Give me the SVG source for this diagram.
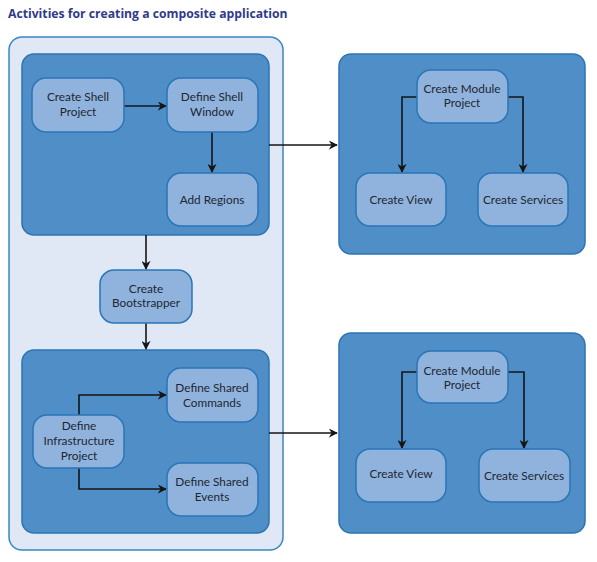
<svg xmlns="http://www.w3.org/2000/svg" width="597" height="562" viewBox="0 0 597 562">
<defs>
<marker id="ah" viewBox="0 0 10 10" refX="9" refY="5" markerWidth="9" markerHeight="9" markerUnits="userSpaceOnUse" orient="auto">
<path d="M0,0 L10,5 L0,10 L3,5 z" fill="#151515"/>
</marker>
<style>
.title{font-family:"Open Sans","Liberation Sans",sans-serif;font-weight:bold;font-size:12.2px;fill:#2f3a8a}
.outer{fill:#dfe8f4;stroke:#3a86c2;stroke-width:1.5}
.group{fill:#4f8ec6;stroke:#2b74b3;stroke-width:1.5}
.node{fill:#8fb3dc;stroke:#2a76b8;stroke-width:1.5}
.lbl{font-family:Lato,"Open Sans",sans-serif;font-size:11.8px;fill:#1e2633;text-anchor:middle}
.c{fill:none;stroke:#151515;stroke-width:1.6;marker-end:url(#ah)}
</style>
</defs>
<text class="title" x="8" y="18">Activities for creating a composite application</text>

<g id="outer-shell"><rect class="outer" x="9" y="37" width="274" height="513" rx="13"/></g>
<g id="shell-group"><rect class="group" x="22" y="54" width="247" height="181" rx="12"/></g>
<g id="infra-group"><rect class="group" x="22" y="350" width="247" height="183" rx="12"/></g>
<g id="module-group-1"><rect class="group" x="339" y="54" width="246" height="200" rx="12"/></g>
<g id="module-group-2"><rect class="group" x="339" y="333" width="246" height="200" rx="12"/></g>

<g id="connectors">
<path class="c" d="M124,106 H166"/>
<path class="c" d="M212,132 V172"/>
<path class="c" d="M269,145 H337"/>
<path class="c" d="M146,235 V269"/>
<path class="c" d="M146,323 V349"/>
<path class="c" d="M79,415 V395 H166"/>
<path class="c" d="M79,468 V489 H166"/>
<path class="c" d="M269,433 H337"/>
<path class="c" d="M417,97 H402 V172"/>
<path class="c" d="M508,97 H523 V172"/>
<path class="c" d="M417,372 H402 V448"/>
<path class="c" d="M508,372 H524 V448"/>
</g>

<g id="create-shell-project"><rect class="node" x="32" y="78" width="92" height="54" rx="14"/><text class="lbl" x="78" y="101">Create Shell</text><text class="lbl" x="78" y="116">Project</text></g>
<g id="define-shell-window"><rect class="node" x="167" y="78" width="91" height="54" rx="14"/><text class="lbl" x="212" y="101">Define Shell</text><text class="lbl" x="212" y="116">Window</text></g>
<g id="add-regions"><rect class="node" x="167" y="173" width="91" height="53" rx="14"/><text class="lbl" x="212" y="204">Add Regions</text></g>
<g id="create-bootstrapper"><rect class="node" x="100" y="270" width="92" height="53" rx="14"/><text class="lbl" x="146" y="293">Create</text><text class="lbl" x="146" y="307">Bootstrapper</text></g>
<g id="define-shared-commands"><rect class="node" x="167" y="368" width="91" height="54" rx="14"/><text class="lbl" x="212" y="392">Define Shared</text><text class="lbl" x="212" y="407">Commands</text></g>
<g id="define-infrastructure-project"><rect class="node" x="33" y="415" width="91" height="53" rx="14"/><text class="lbl" x="79" y="430">Define</text><text class="lbl" x="79" y="445">Infrastructure</text><text class="lbl" x="79" y="460">Project</text></g>
<g id="define-shared-events"><rect class="node" x="167" y="463" width="91" height="53" rx="14"/><text class="lbl" x="212" y="486">Define Shared</text><text class="lbl" x="212" y="501">Events</text></g>

<g id="create-module-project-1"><rect class="node" x="417" y="70" width="91" height="53" rx="14"/><text class="lbl" x="462" y="93">Create Module</text><text class="lbl" x="462" y="107">Project</text></g>
<g id="create-view-1"><rect class="node" x="356" y="173" width="90" height="53" rx="14"/><text class="lbl" x="401" y="204">Create View</text></g>
<g id="create-services-1"><rect class="node" x="478" y="173" width="90" height="53" rx="14"/><text class="lbl" x="523" y="204">Create Services</text></g>

<g id="create-module-project-2"><rect class="node" x="417" y="351" width="91" height="52" rx="14"/><text class="lbl" x="462" y="375">Create Module</text><text class="lbl" x="462" y="389">Project</text></g>
<g id="create-view-2"><rect class="node" x="356" y="449" width="90" height="53" rx="14"/><text class="lbl" x="401" y="478">Create View</text></g>
<g id="create-services-2"><rect class="node" x="479" y="449" width="91" height="53" rx="14"/><text class="lbl" x="524" y="480">Create Services</text></g>
</svg>
